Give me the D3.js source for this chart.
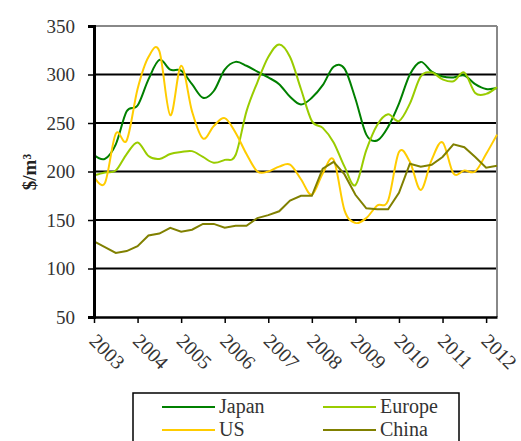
<!DOCTYPE html>
<html>
<head>
<meta charset="utf-8">
<script src="https://cdn.jsdelivr.net/npm/d3@7"></script>
<style>
  body { margin: 0; background: #fff; }
  svg { display: block; font-family: "Liberation Serif", "DejaVu Serif", serif; }
</style>
</head>
<body>
<svg width="521" height="441"></svg>
<script>
// quarterly values, 2003 Q1 .. 2012 Q2
var startYear = 2003;
var years = ["2003","2004","2005","2006","2007","2008","2009","2010","2011","2012"];
var yTicks = [50, 100, 150, 200, 250, 300, 350];

var japan = [217, 213, 228, 262, 268, 295, 315, 305, 304, 290, 276, 283,
             305, 313, 309, 303, 297, 290, 277, 269, 276, 289, 308, 306,
             275, 238, 232, 246, 270, 300, 313, 303, 298, 297, 299, 290,
             285, 286];
var europe = [196, 199, 201, 218, 230, 216, 213, 218, 220, 221, 215, 209,
              212, 217, 262, 292, 318, 331, 318, 285, 252, 245, 230, 205,
              186, 222, 248, 259, 252, 270, 298, 302, 295, 293, 302, 281,
              280, 287];
var us = [195, 188, 239, 232, 285, 318, 324, 258, 309, 262, 234, 247,
          255, 240, 218, 200, 200, 205, 207, 192, 176, 198, 212, 160,
          147, 152, 165, 170, 220, 210, 181, 212, 230, 198, 201, 200,
          218, 238];
var china = [128, 122, 116, 118, 123, 134, 136, 142, 138, 140, 146, 146,
             142, 144, 144, 152, 155, 159, 170, 175, 175, 203, 210, 197,
             176, 162, 161, 161, 178, 208, 205, 207, 215, 228, 225, 215,
             204, 206];

var seriesNames = ["Japan", "Europe", "US", "China"];
var seriesColors = ["#008000", "#99cc00", "#ffcc00", "#808000"];
var seriesData = [japan, europe, us, china];

var svg = d3.select("svg");

var x = d3.scaleLinear().domain([2003, 2012.25]).range([94, 497]);
var y = d3.scaleLinear().domain([50, 350]).range([317, 26]);

// gridlines
svg.append("g").selectAll("line")
  .data(yTicks.filter(d => d > 50 && d < 350))
  .join("line")
  .attr("x1", x(2003)).attr("x2", x(2012.25))
  .attr("y1", d => y(d)).attr("y2", d => y(d))
  .attr("stroke", "#000").attr("stroke-width", 2);

// plot border top/right (gray)
svg.append("line")
  .attr("x1", x(2003)).attr("x2", x(2012.25))
  .attr("y1", y(350)).attr("y2", y(350))
  .attr("stroke", "#888").attr("stroke-width", 2);
svg.append("line")
  .attr("x1", x(2012.25)).attr("x2", x(2012.25))
  .attr("y1", y(350)).attr("y2", y(50))
  .attr("stroke", "#888").attr("stroke-width", 2);

// lines
var line = d3.line()
  .x((d, i) => x(startYear + i * 0.25))
  .y(d => y(d));

seriesData.forEach(function(s, j) {
  line.curve(seriesNames[j] === "China" ? d3.curveLinear : d3.curveCardinal.tension(0));
  svg.append("path")
    .attr("d", line(s))
    .attr("fill", "none")
    .attr("stroke", seriesColors[j])
    .attr("stroke-width", 2);
});

// y axis
var yAxis = d3.axisLeft(y).tickValues(yTicks).tickSize(6).tickPadding(13);
var gy = svg.append("g")
  .attr("transform", `translate(${x(2003)},0)`)
  .call(yAxis);
gy.select(".domain").attr("stroke", "#000").attr("stroke-width", 3);
gy.selectAll(".tick line").attr("stroke", "#000").attr("stroke-width", 1.5);
gy.selectAll(".tick text")
  .attr("font-size", 19)
  .attr("fill", "#333")
  .attr("font-family", "Liberation Serif, serif");

// x axis
var xAxis = d3.axisBottom(x)
  .tickValues(years.map(Number))
  .tickFormat(d => String(d))
  .tickSize(6)
  .tickSizeOuter(0);
var gx = svg.append("g")
  .attr("transform", `translate(0,${y(50)})`)
  .call(xAxis);
gx.select(".domain").attr("stroke", "#000").attr("stroke-width", 2.5);
gx.selectAll(".tick line").attr("stroke", "#000").attr("stroke-width", 1.5);
gx.selectAll(".tick text")
  .attr("font-size", 20)
  .attr("fill", "#333")
  .attr("font-family", "Liberation Serif, serif")
  .attr("text-anchor", "start")
  .attr("dy", null)
  .attr("y", 0)
  .attr("transform", "translate(-3,22) rotate(45)")
  .attr("dominant-baseline", "middle");

// y title
svg.append("text")
  .attr("transform", "translate(36,172) rotate(-90)")
  .attr("text-anchor", "middle")
  .attr("font-size", 19)
  .attr("font-weight", "bold")
  .attr("fill", "#222")
  .text("$/m³");

// legend
var lg = svg.append("g");
lg.append("rect")
  .attr("x", 133).attr("y", 393)
  .attr("width", 326).attr("height", 60)
  .attr("fill", "#fff").attr("stroke", "#000").attr("stroke-width", 1.5);

var legendPos = [[162, 407], [323, 407], [162, 430], [323, 430]];
seriesNames.forEach(function(n, j) {
  var p = legendPos[j];
  lg.append("line")
    .attr("x1", p[0]).attr("x2", p[0] + 53)
    .attr("y1", p[1]).attr("y2", p[1])
    .attr("stroke", seriesColors[j]).attr("stroke-width", 2);
  lg.append("text")
    .attr("x", p[0] + 57).attr("y", p[1] + 6)
    .attr("font-size", 20)
    .attr("fill", "#333")
    .text(n);
});
</script>
</body>
</html>
